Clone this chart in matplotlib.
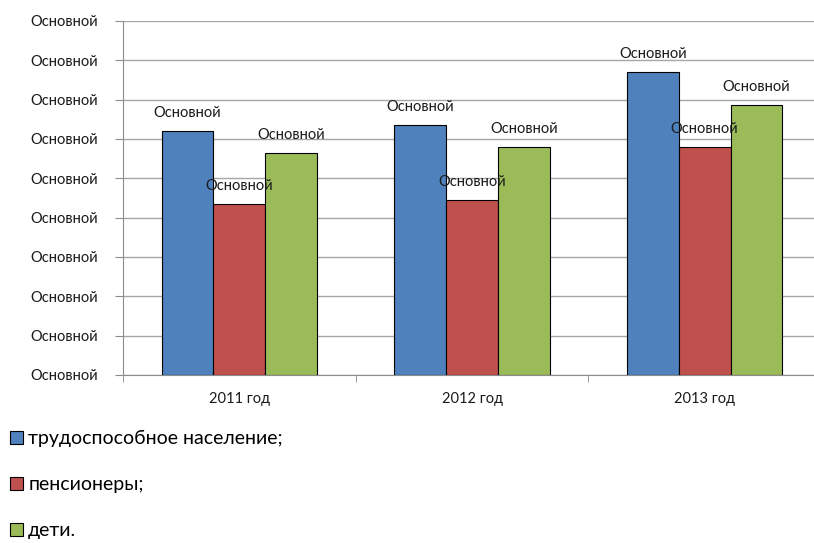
import numpy as np
import matplotlib.pyplot as plt

plt.rcParams['font.family'] = ['Lato', 'DejaVu Sans']

years = ['2011 год', '2012 год', '2013 год']
series = ['трудоспособное население;', 'пенсионеры;', 'дети.']
working = [6.20, 6.36, 7.70]
pensioners = [4.35, 4.45, 5.80]
children = [5.64, 5.80, 6.86]
colors = ['#4F81BD', '#C0504D', '#9BBB59']
ytick_label = 'Основной'
bar_label = 'Основной'

fig = plt.figure(figsize=(8.14, 5.43), dpi=100)
ax = fig.add_axes([123 / 814, 1 - 375 / 543, 698 / 814, 354 / 543])

x = np.arange(len(years))
w = 0.223
for i, (vals, c, name) in enumerate(zip([working, pensioners, children], colors, series)):
    bars = ax.bar(x + (i - 1) * w, vals, w, color=c, edgecolor='black',
                  linewidth=0.8, label=name, zorder=3)
    for b in bars:
        ax.annotate(bar_label, (b.get_x() + b.get_width() / 2, b.get_height()),
                    xytext=(0, 8), textcoords='offset points',
                    ha='center', va='bottom', fontsize=10.5, color='#1a1a1a', zorder=4)

ax.set_xlim(-0.5, 2.5)
ax.set_ylim(0, 9)
ax.set_yticks(range(10))
ax.set_yticklabels([ytick_label] * 10, fontsize=10.5, color='#1a1a1a')
ax.yaxis.grid(True, color='#a6a6a6', linewidth=1.0, zorder=0)
ax.set_xticks(x)
ax.set_xticklabels(years, fontsize=10.5, color='#1a1a1a')
ax.set_xticks([-0.5, 0.5, 1.5, 2.5], minor=True)
ax.tick_params(axis='x', which='major', length=0, pad=12)
ax.tick_params(axis='x', which='minor', length=5, color='#8c8c8c', direction='out')
ax.tick_params(axis='y', length=6, color='#8c8c8c', pad=12)
for s in ['top', 'right']:
    ax.spines[s].set_visible(False)
for s in ['left', 'bottom']:
    ax.spines[s].set_color('#8c8c8c')

fig.legend(loc='upper left', bbox_to_anchor=(0.0, 0.226), frameon=False,
           fontsize=14, handlelength=0.7, handleheight=0.7, handletextpad=0.25,
           labelspacing=1.5, borderaxespad=0.0, borderpad=0.5)

fig.savefig('out.png', dpi=100)
